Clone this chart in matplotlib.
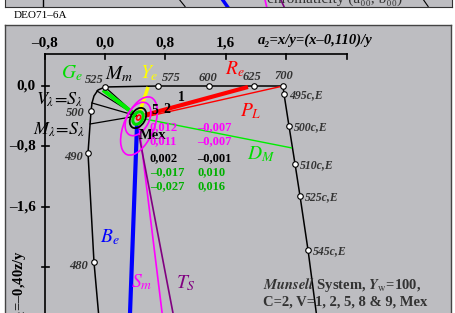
import matplotlib
matplotlib.use("Agg")
import matplotlib.pyplot as plt
from matplotlib.patches import Ellipse

plt.rcParams['font.family'] = ['Liberation Serif', 'DejaVu Serif']
plt.rcParams['mathtext.fontset'] = 'stix'

PANEL = '#bdbdc1'

# spectral locus (a2, b2)
locus_a = [2.358, 1.974, 1.377, 0.702, 0.0, -0.093, -0.146, -0.172,
           -0.185, -0.225, -0.146, -0.066]
locus_b = [0.0, 0.0, 0.0, 0.0, -0.013, -0.053, -0.132, -0.225,
           -0.331, -0.887, -2.331, -3.23]

wl_labels = ['700', '625', '600', '575', '525', '500', '490', '480']
wl_a = [2.358, 1.974, 1.377, 0.702, 0.0, -0.185, -0.225, -0.146]
wl_b = [0.0, 0.0, 0.0, 0.0, -0.013, -0.331, -0.887, -2.331]

# complementary (purple) side
comp_line_a = [2.358, 2.371, 2.437, 2.517, 2.583, 2.689, 2.828]
comp_line_b = [0.0, -0.106, -0.530, -1.033, -1.457, -2.172, -3.23]
comp_labels = ['495c,E', '500c,E', '510c,E', '525c,E', '545c,E']
comp_a = [2.371, 2.437, 2.517, 2.583, 2.689]
comp_b = [-0.106, -0.530, -1.033, -1.457, -2.172]

# hue lines: start / end points
hue_names = ['Re', 'PL', 'Ge', 'DM', 'Ye', 'Be', 'Sm', 'TS']
hue_a0 = [0.530, 0.530, 0.371, 0.530, 0.464, 0.424, 0.450, 0.450]
hue_b0 = [-0.384, -0.411, -0.358, -0.437, -0.331, -0.517, -0.517, -0.649]
hue_a1 = [1.894, 2.358, -0.026, 2.477, 0.570, 0.323, 0.784, 0.943]
hue_b1 = [-0.013, 0.0, -0.053, -0.821, -0.013, -3.23, -3.23, -3.23]
hue_colors = ['#ff0000', '#ff0000', '#00ee00', '#00ee00', '#ffff00',
              '#0000ff', '#ff00ff', '#800080']
hue_widths = [3.0, 1.0, 3.0, 1.0, 2.5, 3.0, 1.2, 1.2]

# black lines from the white point to the locus
white_a, white_b = 0.424, -0.397
spoke_a = [0.0, -0.106, -0.172, -0.197]
spoke_b = [-0.013, -0.066, -0.225, -0.503]

# ellipses: centre, width, height, angle
ell_a = [0.450, 0.437, 0.437, 0.437, 0.445]
ell_b = [-0.530, -0.437, -0.424, -0.424, -0.418]
ell_w = [0.821, 0.477, 0.29, 0.18, 0.07]
ell_h = [0.397, 0.291, 0.19, 0.12, 0.05]
ell_ang = [67, 62, 60, 60, 60]
ell_col = ['#ff00ff', '#ff00ff', 'black', '#00dd00', '#ff0000']
ell_lw = [1.2, 1.2, 1.3, 2.2, 1.2]

# line labels
lab_text = [r'$G_e$', r'$M_m$', r'$Y_e$', r'$R_e$', r'$P_L$', r'$D_M$',
            r'$B_e$', r'$S_m$', r'$T_S$']
lab_a = [-0.437, 0.185, 0.583, 1.722, 1.934, 2.066, 0.066, 0.490, 1.073]
lab_b = [0.172, 0.159, 0.172, 0.225, -0.331, -0.901, -2.0, -2.596, -2.609]
lab_col = ['#00dd00', 'black', '#ffff00', '#ff0000', '#ff0000', '#00dd00',
           '#0000ff', '#ff00ff', '#800080']

# table of values
col1 = ['0,012', '0,011', '0,002', '–0,017', '–0,027']
col2 = ['–0,007', '–0,007', '–0,001', '0,010', '0,016']
row_b = [-0.543, -0.728, -0.954, -1.139, -1.325]
row_col = ['#ff00ff', '#ff00ff', 'black', '#00b000', '#00b000']

xticks = [-0.8, 0.0, 0.8, 1.6, 2.4, 3.2]
xlabels = ['–0,8', '0,0', '0,8', '1,6', '', '']
yticks = [0.0, -0.8, -1.6, -2.4]
ylabels = ['0,0', '–0,8', '–1,6', '']


def main():
    fig = plt.figure(figsize=(4.56, 3.13), dpi=100)

    # strip of the previous panel at the top
    top = fig.add_axes([5 / 456, 1 - 6.5 / 313, 447 / 456, 6.5 / 313])
    top.set_facecolor(PANEL)
    top.set_xlim(-1.3245, 4.5961)
    top.set_ylim(0, 1)
    top.set_xticks([])
    top.set_yticks([])
    for s in top.spines.values():
        s.set_color('#333333')
    top.spines['top'].set_visible(False)
    top.plot([-0.821, -0.821], [0, 1], color='black', lw=1)
    top.plot([0.99, 1.06], [1, 0], color='black', lw=0.8)
    top.plot([1.56, 1.62], [1, 0], color='#0000ff', lw=2.5)
    top.plot([2.12, 2.14], [1, 0], color='#ff00ff', lw=1.2)
    top.plot([2.33, 2.37], [1, 0], color='#800080', lw=1.2)
    top.plot([4.22, 4.28], [1, 0], color='black', lw=0.8)
    top.text(2.14, 0.6, 'chromaticity (a₀₀, b₀₀)', fontsize=11,
             color='#333333', va='baseline', clip_on=True)

    fig.text(14 / 456, 1 - 15 / 313, 'DEO71–6A', fontsize=8,
             ha='left', va='center')

    ax = fig.add_axes([5 / 456, 0, 446 / 456, 288 / 313])
    ax.set_facecolor(PANEL)
    ax.set_xlim(-1.3245, 4.5828)
    ax.set_ylim(-3.0066, 0.8079)
    ax.set_xticks([])
    ax.set_yticks([])
    for s in ax.spines.values():
        s.set_color('#444444')
        s.set_linewidth(1.0)
    ax.spines['bottom'].set_visible(False)

    # axes drawn inside the panel
    ax.plot([-0.8, 3.2], [0.424, 0.424], color='black', lw=1.2)
    ax.plot([-0.8, -0.8], [0.424, -3.3], color='black', lw=1.2)
    for t, lab in zip(xticks, xlabels):
        ax.plot([t, t], [0.424, 0.36], color='black', lw=1.2)
        ax.text(t, 0.57, lab, fontsize=11, fontweight='bold',
                ha='center', va='center')
    for t, lab in zip(yticks, ylabels):
        ax.plot([-0.84, -0.74], [t, t], color='black', lw=1.2)
        ax.text(-0.92, t, lab, fontsize=11, fontweight='bold',
                ha='right', va='center')
    ax.text(2.781, 0.609, 'a₂=x/y=(x–0,110)/y', fontsize=10.5,
            fontweight='bold', fontstyle='italic', ha='center', va='center')
    ax.text(-1.126, -2.172, 'b$_2$=–0,40z/y', fontsize=10.5,
            fontweight='bold', rotation=90, ha='center', va='top')

    # spectral locus
    ax.plot(locus_a, locus_b, color='black', lw=1.1, zorder=2)
    ax.plot(comp_line_a, comp_line_b, color='black', lw=1.1, zorder=2)

    for a, b in zip(spoke_a, spoke_b):
        ax.plot([white_a, a], [white_b, b], color='black', lw=0.9, zorder=2)

    for i in range(len(hue_names)):
        ax.plot([hue_a0[i], hue_a1[i]], [hue_b0[i], hue_b1[i]],
                color=hue_colors[i], lw=hue_widths[i], zorder=3,
                solid_capstyle='butt')

    for i in range(len(ell_a)):
        ax.add_patch(Ellipse((ell_a[i], ell_b[i]), ell_w[i], ell_h[i],
                             angle=ell_ang[i], fill=False,
                             edgecolor=ell_col[i], lw=ell_lw[i], zorder=4))

    ax.plot(wl_a, wl_b, 'o', ms=4, mfc='white', mec='black', mew=0.8,
            zorder=5)
    ax.plot(comp_a, comp_b, 'o', ms=4, mfc='white', mec='black', mew=0.8,
            zorder=5)

    wl_off = [(1, 10), (-2, 9), (-1.5, 8), (13, 8), (-11, 7),
              (-16, -2), (-14, -4), (-15, -4)]
    for lab, a, b, off in zip(wl_labels, wl_a, wl_b, wl_off):
        ax.annotate(lab, (a, b), xytext=off, textcoords='offset pixels',
                    fontsize=9, fontstyle='italic', fontweight='bold',
                    color='#333333', ha='center', va='center', zorder=6)
    for lab, a, b in zip(comp_labels, comp_a, comp_b):
        ax.annotate(lab, (a, b), xytext=(5, -1), textcoords='offset pixels',
                    fontsize=8.5, fontstyle='italic', fontweight='bold',
                    color='#333333', ha='left', va='center', zorder=6)

    for t, a, b, c in zip(lab_text, lab_a, lab_b, lab_col):
        ax.text(a, b, t, fontsize=14, color=c, ha='center', va='center',
                zorder=6)
    ax.text(-0.596, -0.185, r'$V_\lambda\!=\!S_\lambda$', fontsize=13,
            ha='center', va='center', zorder=6)
    ax.text(-0.609, -0.583, r'$M_\lambda\!=\!S_\lambda$', fontsize=13,
            ha='center', va='center', zorder=6)

    ax.text(1.007, -0.146, '1', fontsize=10, fontweight='bold',
            ha='center', va='center', zorder=6)
    ax.text(0.662, -0.331, '5', fontsize=10, fontweight='bold',
            ha='center', va='center', zorder=6)
    ax.text(0.821, -0.305, '2', fontsize=10, fontweight='bold',
            ha='center', va='center', zorder=6)
    ax.text(0.636, -0.662, 'Mex', fontsize=10.5, fontweight='bold',
            ha='center', va='center', zorder=6)

    for v1, v2, b, c in zip(col1, col2, row_b, row_col):
        ax.text(0.596, b, v1, fontsize=9, fontweight='bold', color=c,
                ha='left', va='center', zorder=6)
        ax.text(1.219, b, v2, fontsize=9, fontweight='bold', color=c,
                ha='left', va='center', zorder=6)

    ax.text(2.093, -2.636,
            r'$\mathbfit{Munsell}$ System, $\mathbfit{Y}_\mathrm{w}$=100,',
            fontsize=10.5, fontweight='bold', color='#333333',
            ha='left', va='center', zorder=6)
    ax.text(2.093, -2.861, 'C=2, V=1, 2, 5, 8 & 9, Mex',
            fontsize=10.5, fontweight='bold', color='#333333',
            ha='left', va='center', zorder=6)

    fig.savefig('out.png', dpi=100)


if __name__ == "__main__":
    main()
